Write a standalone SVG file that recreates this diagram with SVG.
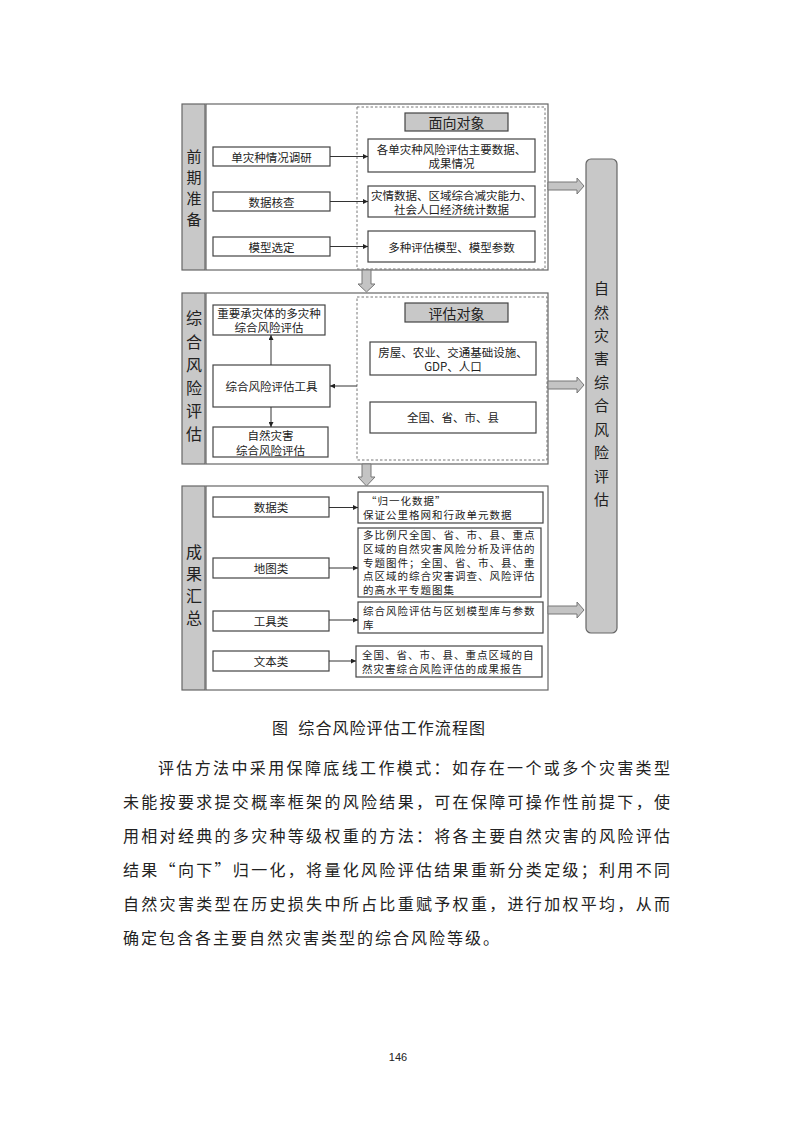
<svg xmlns="http://www.w3.org/2000/svg" width="793" height="1122" viewBox="0 0 793 1122">
<style>
text{font-family:"Noto Sans CJK SC","Liberation Sans",sans-serif;fill:#222;}
.t{font-size:11.5px;text-anchor:middle;dominant-baseline:central;}
.tl{font-size:10.5px;letter-spacing:1px;dominant-baseline:central;}
.hd{font-size:14px;text-anchor:middle;dominant-baseline:central;}
.lab{font-size:16px;text-anchor:middle;dominant-baseline:central;}
.lab1{font-size:15px;text-anchor:middle;dominant-baseline:central;}
.box{fill:#fff;stroke:#444;stroke-width:1.2;}
.frame{fill:#fff;stroke:#666;stroke-width:1.2;}
.col{fill:#c8c8c8;stroke:#666;stroke-width:1.2;}
.dash{fill:none;stroke:#777;stroke-width:1;stroke-dasharray:2.5,2;}
.hdbox{fill:#c8c8c8;stroke:#444;stroke-width:1.2;}
.con{stroke:#333;stroke-width:1;fill:none;marker-end:url(#ah);}
.blk{fill:#c4c4c4;stroke:#777;stroke-width:1;}
.body{font-size:16px;dominant-baseline:central;font-family:"Noto Sans CJK SC",serif;}
</style>
<defs>
<marker id="ah" viewBox="0 0 10 10" refX="10" refY="5" markerWidth="5" markerHeight="5" orient="auto" markerUnits="userSpaceOnUse">
<path d="M0,0 L10,5 L0,10 z" fill="#222"/>
</marker>
</defs>
<rect width="793" height="1122" fill="#fff"/>

<!-- Section 1 -->
<g id="sec1">
<rect class="col" x="182" y="104" width="23" height="166"/>
<rect class="frame" x="206" y="104" width="342" height="166"/>
<text class="lab1" x="194" y="155">前</text>
<text class="lab1" x="194" y="176">期</text>
<text class="lab1" x="194" y="197">准</text>
<text class="lab1" x="194" y="218">备</text>
<rect class="dash" x="357" y="107" width="188" height="162"/>
</g>
<g id="hd1"><rect class="hdbox" x="405" y="113" width="103" height="18"/><text class="hd" x="456.5" y="122">面向对象</text></g>
<g id="n_dzqk"><rect class="box" x="213" y="147" width="117" height="19"/><text class="t" x="271.5" y="156.5">单灾种情况调研</text></g>
<g id="n_sjhc"><rect class="box" x="213" y="192" width="117" height="19"/><text class="t" x="271.5" y="201.5">数据核查</text></g>
<g id="n_mxxd"><rect class="box" x="213" y="237" width="117" height="19"/><text class="t" x="271.5" y="246.5">模型选定</text></g>
<g id="o1"><rect class="box" x="368" y="139" width="167" height="33"/><text class="t" x="451.5" y="149">各单灾种风险评估主要数据、</text><text class="t" x="451.5" y="163">成果情况</text></g>
<g id="o2"><rect class="box" x="368" y="186" width="167" height="31"/><text class="t" x="451.5" y="194.5">灾情数据、区域综合减灾能力、</text><text class="t" x="451.5" y="208.5">社会人口经济统计数据</text></g>
<g id="o3"><rect class="box" x="368" y="231" width="167" height="31"/><text class="t" x="451.5" y="246.5">多种评估模型、模型参数</text></g>

<!-- Section 2 -->
<g id="sec2">
<rect class="col" x="182" y="293" width="23" height="171"/>
<rect class="frame" x="206" y="293" width="342" height="171"/>
<text class="lab" x="194" y="317">综</text>
<text class="lab" x="194" y="341">合</text>
<text class="lab" x="194" y="364">风</text>
<text class="lab" x="194" y="387">险</text>
<text class="lab" x="194" y="410">评</text>
<text class="lab" x="194" y="433">估</text>
<rect class="dash" x="357" y="297" width="190" height="163"/>
</g>
<g id="hd2"><rect class="hdbox" x="405" y="303" width="103" height="19"/><text class="hd" x="456.5" y="312.5">评估对象</text></g>
<g id="n_zycz"><rect class="box" x="213" y="305" width="112" height="30"/><text class="t" x="269" y="312.5">重要承灾体的多灾种</text><text class="t" x="269" y="327">综合风险评估</text></g>
<g id="n_tool"><rect class="box" x="213" y="365" width="117" height="42"/><text class="t" x="271.5" y="386">综合风险评估工具</text></g>
<g id="n_zrzh"><rect class="box" x="213" y="427" width="115" height="30"/><text class="t" x="270.5" y="434.5">自然灾害</text><text class="t" x="270.5" y="449.5">综合风险评估</text></g>
<g id="o4"><rect class="box" x="370" y="342" width="166" height="33"/><text class="t" x="453" y="352">房屋、农业、交通基础设施、</text><text class="t" x="453" y="366">GDP、人口</text></g>
<g id="o5"><rect class="box" x="370" y="402" width="166" height="31"/><text class="t" x="453" y="417">全国、省、市、县</text></g>

<!-- Section 3 -->
<g id="sec3">
<rect class="col" x="182" y="486" width="23" height="204"/>
<rect class="frame" x="206" y="486" width="342" height="204"/>
<text class="lab" x="194" y="551">成</text>
<text class="lab" x="194" y="573">果</text>
<text class="lab" x="194" y="595">汇</text>
<text class="lab" x="194" y="617">总</text>
</g>
<g id="n_sjl"><rect class="box" x="213" y="497" width="116" height="20"/><text class="t" x="271" y="507">数据类</text></g>
<g id="n_dtl"><rect class="box" x="213" y="558" width="116" height="20"/><text class="t" x="271" y="568">地图类</text></g>
<g id="n_gjl"><rect class="box" x="213" y="611" width="116" height="20"/><text class="t" x="271" y="621">工具类</text></g>
<g id="n_wbl"><rect class="box" x="213" y="651" width="116" height="20"/><text class="t" x="271" y="661">文本类</text></g>
<g id="r1"><rect class="box" x="358" y="492" width="185" height="31"/><text class="tl" x="366" y="500.5">“归一化数据”</text><text class="tl" x="363" y="514.5">保证公里格网和行政单元数据</text></g>
<g id="r2"><rect class="box" x="358" y="528" width="183" height="69"/>
<text class="tl" x="363" y="534.5">多比例尺全国、省、市、县、重点</text>
<text class="tl" x="363" y="548.25">区域的自然灾害风险分析及评估的</text>
<text class="tl" x="363" y="562">专题图件；全国、省、市、县、重</text>
<text class="tl" x="363" y="575.75">点区域的综合灾害调查、风险评估</text>
<text class="tl" x="363" y="589.5">的高水平专题图集</text></g>
<g id="r3"><rect class="box" x="358" y="602" width="185" height="31"/><text class="tl" x="363" y="610.5">综合风险评估与区划模型库与参数</text><text class="tl" x="363" y="624.5">库</text></g>
<g id="r4"><rect class="box" x="356" y="646" width="186" height="31"/><text class="tl" x="362" y="654.5">全国、省、市、县、重点区域的自</text><text class="tl" x="362" y="668.5">然灾害综合风险评估的成果报告</text></g>

<!-- Right column -->
<g id="final"><rect class="col" x="586" y="159" width="31" height="474" rx="5" ry="5"/>
<text class="lab1" x="601.5" y="287">自</text>
<text class="lab1" x="601.5" y="311">然</text>
<text class="lab1" x="601.5" y="334">灾</text>
<text class="lab1" x="601.5" y="357">害</text>
<text class="lab1" x="601.5" y="381">综</text>
<text class="lab1" x="601.5" y="404">合</text>
<text class="lab1" x="601.5" y="428">风</text>
<text class="lab1" x="601.5" y="451">险</text>
<text class="lab1" x="601.5" y="475">评</text>
<text class="lab1" x="601.5" y="498">估</text>
</g>

<!-- Connectors -->
<g id="connectors">
<line class="con" x1="330" y1="156.5" x2="368" y2="156.5"/>
<line class="con" x1="330" y1="201.5" x2="368" y2="201.5"/>
<line class="con" x1="330" y1="246.5" x2="368" y2="246.5"/>
<line class="con" x1="357" y1="386" x2="330" y2="386"/>
<line class="con" x1="271" y1="365" x2="271" y2="335"/>
<line class="con" x1="271" y1="407" x2="271" y2="427"/>
<line class="con" x1="329" y1="507.5" x2="358" y2="507.5"/>
<line class="con" x1="329" y1="568" x2="358" y2="568"/>
<line class="con" x1="329" y1="620" x2="358" y2="620"/>
<line class="con" x1="329" y1="661" x2="356" y2="661"/>
<path class="blk" d="M362,270 H371 V284 H375 L366.5,292 L358,284 H362 Z"/>
<path class="blk" d="M362,464 H371 V477 H375 L366.5,486 L358,477 H362 Z"/>
<path class="blk" d="M548,182 H577 V178 L584,186 L577,194 V190 H548 Z"/>
<path class="blk" d="M548,381 H577 V377 L584,385 L577,393 V389 H548 Z"/>
<path class="blk" d="M548,606 H577 V602 L584,610 L577,618 V614 H548 Z"/>
</g>

<!-- Caption and body -->
<text class="body" x="272" y="727" textLength="213" lengthAdjust="spacing">图&#160;&#160;综合风险评估工作流程图</text>
<text class="body" x="158" y="767" textLength="512" lengthAdjust="spacing">评估方法中采用保障底线工作模式：如存在一个或多个灾害类型</text>
<text class="body" x="123" y="801" textLength="547" lengthAdjust="spacing">未能按要求提交概率框架的风险结果，可在保障可操作性前提下，使</text>
<text class="body" x="123" y="835" textLength="547" lengthAdjust="spacing">用相对经典的多灾种等级权重的方法：将各主要自然灾害的风险评估</text>
<text class="body" x="123" y="869" textLength="547" lengthAdjust="spacing">结果“向下”归一化，将量化风险评估结果重新分类定级；利用不同</text>
<text class="body" x="123" y="903" textLength="547" lengthAdjust="spacing">自然灾害类型在历史损失中所占比重赋予权重，进行加权平均，从而</text>
<text class="body" x="123" y="937" textLength="376" lengthAdjust="spacing">确定包含各主要自然灾害类型的综合风险等级。</text>
<text x="398" y="1057" style="font-size:11px;text-anchor:middle;dominant-baseline:central;font-family:'Liberation Sans',sans-serif">146</text>
</svg>
